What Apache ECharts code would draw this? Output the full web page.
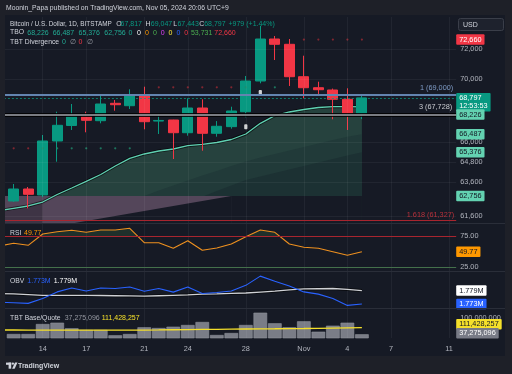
<!DOCTYPE html>
<html>
<head>
<meta charset="utf-8">
<script src="https://cdn.jsdelivr.net/npm/echarts@6.0.0/dist/echarts.min.js"></script>
<style>
html,body{margin:0;padding:0;background:#1e2028;}
#chart{width:512px;height:374px;}
</style>
</head>
<body>
<div id="chart"></div>
<script>
// ---------- categories / ticks ----------
const dates = ['Oct 11','Oct 12','Oct 13','Oct 14','Oct 15','Oct 16','Oct 17','Oct 18','Oct 19','Oct 20',
  'Oct 21','Oct 22','Oct 23','Oct 24','Oct 25','Oct 26','Oct 27','Oct 28','Oct 29','Oct 30','Oct 31',
  'Nov 1','Nov 2','Nov 3','Nov 4','Nov 5','Nov 6','Nov 7','Nov 8','Nov 9','Nov 10','Nov 11'];
const tickDates = ['Oct 14','Oct 17','Oct 21','Oct 24','Oct 28','Nov 1','Nov 4','Nov 7','Nov 11'];
const tickTexts = ['14','17','21','24','28','Nov','4','7','11'];
const priceTicks = [72000, 70000, 66000, 64800, 63600, 61600];
const priceTickTexts = ['72,000','70,000','66,000','64,800','63,600','61,600'];

// ---------- OHLC (Oct 11 is off-screen) ----------
const openP  = [null,62466,63171,62820,66076,67040,67597,67344,68450,68296,68984,67320,67388,66591,68149,66554,66970,67913,69894,72697,72338,70176,69457,69308,68707,67817];
const closeP = [null,63171,62859,66076,67054,67597,67369,68405,68360,68984,67281,67360,66591,68149,66554,66992,67959,69894,72697,72338,70176,69457,69327,68707,67817,68797];
const lowP   = [null,62420,62040,62700,64808,66760,66616,67180,67977,68085,66804,66511,64971,66405,65479,66342,66842,67559,69744,71282,69568,68771,69049,67433,66760,67443];
const highP  = [null,63469,63291,66448,67913,68405,67913,68984,68662,69353,69522,67768,67400,68771,68707,67320,68232,70222,73600,72902,72697,71569,69848,69400,69418,69047];

// ---------- TBO indicator ----------
const tboFast  = [61903,62040,62175,62407,62847,63231,63629,64036,64547,65014,65277,65460,65583,65786,65872,65983,66169,66511,67180,67661,67895,68054,68182,68232,68232,68226];
const tboSlow  = [62756,62756,62756,62756,62756,62756,62756,62756,62756,62756,62756,62756,62756,62756,62756,62756,62756,62756,62756,62756,62756,62756,62756,62756,62756,62756];
const tboBand1 = [null,null,null,null,null,null,null,null,null,null,62760,63084,63379,63677,63976,64246,64547,64819,65063,65277,65490,65706,65922,66138,66342,66487];
const tboBand2 = [null,null,null,null,null,null,null,null,null,null,null,null,null,null,62719,63054,63379,63706,63915,64125,64336,64547,64759,64971,65185,65376];
const tboLow   = [60450,60588,60736,60878,61021,61164,61307,61451,61595,61739,61884,62029,62175,62320,62466,62613,62760];
const dotRed   = [null,65625,65625,null,null,null,null,null,null,null,null,69484,69484,69484,69484,69484,69484,null,null,null,null,72660,72660,72660,72660,72660];
const dotGreen = [null,null,null,65625,65625,65625,65625,65625,65625,65625,null,null,null,null,null,null,null,69484,null,69484,null,null,null,null,null,null];
const divMarks = [null,null,null,null,null,null,null,null,null,null,null,null,null,null,null,null,null,66967,69146,null,null,null,null,null,null,null];

// ---------- drawings ----------
const fib1 = 69000, fib3 = 67728, fib1618 = 61327, lastPrice = 68797;

// ---------- RSI ----------
const rsi = [58.9,63.3,60.1,78.2,81.9,84.1,80.9,84.6,84.6,87.3,64.3,64.3,55.4,67.5,52.2,55.8,62.2,73.9,84.6,80.9,62.2,57.0,55.4,49.9,44.2,49.77];
const rsiUpper = 75, rsiLower = 25;

// ---------- OBV (millions) ----------
const obv   = [1.7738,1.7736,1.7733,1.7755,1.7784,1.7801,1.7788,1.7801,1.7799,1.7806,1.7787,1.7799,1.7783,1.7806,1.7777,1.7781,1.7788,1.7813,1.7854,1.7831,1.7810,1.7784,1.7774,1.7755,1.7724,1.7730];
const obvMa = [1.77764,1.7775,1.7772,1.7769,1.7769,1.7769,1.7769,1.7768,1.7767,1.7766,1.7765,1.7767,1.7769,1.7771,1.7774,1.7775,1.7777,1.7779,1.7783,1.7787,1.7793,1.7797,1.7798,1.7799,1.7795,1.7790];

// ---------- TBT Base/Quote volume (millions) ----------
const vol   = [null,38.4,38.4,77.6,82.7,60.8,54.1,54.1,33.3,38.4,64.7,61.9,67.0,73.7,85.5,34.5,42.3,73.7,121.9,80.4,64.7,88.2,47.4,71.0,82.7,37.275];
const volMa = [54.1,54.0,53.8,53.6,53.5,53.4,53.4,53.3,53.3,53.5,53.8,54.3,55.0,55.6,56.2,56.8,57.4,58.0,58.6,59.0,59.5,60.0,60.8,61.6,62.4,63.1];

// ---------- style constants ----------
const OUTER = '#1e2028', PANEL = '#161a25';
const FONT = '"Liberation Sans", Arial, sans-serif';
const GREEN = '#089981', RED = '#f23645', MINT = '#63d2b1';
const TXT = '#d1d4dc', AXT = '#b2b5be';
const GL = -8.09, GR = 55.8;
const GRIDLS = {color:'rgba(255,255,255,0.05)', width:1, type:'solid'};
const NOLINE = {color:'rgba(0,0,0,0)', width:1, type:'solid'};

function part(arr, from, to){ return arr.map((v,i)=> (i>=from && i<=to) ? v : null); }
function dash(arr){ return arr.map(v => v == null ? '-' : v); }
const candleData = openP.map((o,i)=> o == null ? ['-','-','-','-'] : [o, closeP[i], lowP[i], highP[i]]);

function area(data, color, z){
  return {type:'line', xAxisIndex:0, yAxisIndex:0, data:data, showSymbol:false, silent:true,
    lineStyle:{width:0}, areaStyle:{color:color, opacity:1, origin:'start'}, z:z, connectNulls:false};
}
function vGrid(){ return tickDates.map(d => ({xAxis:d, lineStyle:GRIDLS, label:{show:false}})); }
function tickLab(v, text){
  return {yAxis:v, lineStyle:GRIDLS, label:{show:true, position:'end', distance:4, formatter:text, color:AXT, fontSize:7.3, fontFamily:FONT, opacity:1}};
}
function plainLab(v, text){
  return {yAxis:v, lineStyle:NOLINE, label:{show:true, position:'end', distance:4, formatter:text, color:AXT, fontSize:7.3, fontFamily:FONT, opacity:1}};
}
function badge(v, text, bg, fg, dy){
  return {yAxis:v, lineStyle:NOLINE, label:{show:true, position:'end', distance:0, formatter:text,
    backgroundColor:bg, color:fg, fontSize:7.3, fontFamily:FONT, padding:[1.5,3,1,3], borderRadius:1,
    lineHeight:8, opacity:1, offset:[0, dy || 0]}};
}
function carrier(idx, marks, z, extra){
  const s = {type:'line', xAxisIndex:idx, yAxisIndex:idx, data:[], clip:false, silent:true, z:z,
    labelLayout:{hideOverlap:false},
    markLine:{silent:true, symbol:['none','none'], animation:false, precision:8, data:marks}};
  return Object.assign(s, extra || {});
}

const mainMarks = [].concat(
  vGrid(),
  priceTicks.map((v,i)=>tickLab(v, priceTickTexts[i])),
  [
    {yAxis:fib1, lineStyle:{color:'#6384b0', width:2, type:'solid'},
      label:{show:true, position:'insideEndTop', distance:3, formatter:'1 (69,000)', color:'#7f9cc6', fontSize:7.3, fontFamily:FONT}},
    {yAxis:lastPrice, lineStyle:{color:'rgba(8,153,129,0.75)', width:1, type:[2,2]}, label:{show:false}},
    {yAxis:fib3, lineStyle:{color:'#000000', width:4, opacity:0.85, type:'solid'}, label:{show:false}},
    {yAxis:fib3, lineStyle:{color:'#a3a6ad', width:1.6, type:'solid'},
      label:{show:true, position:'insideEndTop', distance:4, formatter:'3 (67,728)', color:'#c9cbd0', fontSize:7.3, fontFamily:FONT}},
    {yAxis:fib1618, lineStyle:{color:'#a8252f', width:1.2, type:'solid'},
      label:{show:true, position:'insideEndTop', distance:2, formatter:'1.618 (61,327)', color:'#b8313b', fontSize:7.3, fontFamily:FONT}},
    badge(72660, '72,660', RED, '#ffffff'),
    badge(lastPrice, '68,797\n12:53:53', GREEN, '#ffffff', 4.4),
    badge(tboFast[tboFast.length-1], '68,226', MINT, '#131722', 7.8),
    badge(tboBand1[tboBand1.length-1], '66,487', MINT, '#131722'),
    badge(tboBand2[tboBand2.length-1], '65,376', MINT, '#131722'),
    badge(tboSlow[tboSlow.length-1], '62,756', MINT, '#131722')
  ]
);

const rsiMarks = [].concat(vGrid(), [
  {yAxis:rsiUpper, lineStyle:{color:'#a8252f', width:1, type:'solid'}, label:{show:true, position:'end', distance:4, formatter:'75.00', color:AXT, fontSize:7.3, fontFamily:FONT}},
  {yAxis:rsiLower, lineStyle:{color:'#44704b', width:1, type:'solid'}, label:{show:true, position:'end', distance:4, formatter:'25.00', color:AXT, fontSize:7.3, fontFamily:FONT}},
  badge(rsi[rsi.length-1], '49.77', '#ff9800', '#131722')
]);
const obvMarks = [].concat(vGrid(), [
  badge(obvMa[obvMa.length-1], '1.779M', '#ffffff', '#131722'),
  badge(obv[obv.length-1], '1.773M', '#2962ff', '#ffffff')
]);
const volMarks = [].concat(vGrid(), [
  plainLab(100, '100,000,000'),
  badge(volMa[volMa.length-1], '111,428,257', '#f5e02a', '#131722', -3.4),
  badge(vol[vol.length-1], '37,275,096', '#787b86', '#ffffff', -1)
]);

// ---------- graphic texts ----------
function txt(x, y, text, color, size, weight){
  return {type:'text', x:x, y:y, z:100, silent:true,
    style:{text:text, fill:color, font:(weight||'normal')+' '+(size||7)+'px '+FONT,
      align:'left', verticalAlign:'middle', textAlign:'left', textVerticalAlign:'middle'}};
}
const G = [
  {type:'rect', z:-10, silent:true, shape:{x:5, y:15, width:500, height:341}, style:{fill:PANEL}},
  {type:'rect', z:100, silent:true, shape:{x:0, y:0, width:5, height:374}, style:{fill:OUTER}},
  {type:'line', z:90, silent:true, shape:{x1:5, y1:223.5, x2:505, y2:223.5}, style:{stroke:'#2a2e39', lineWidth:1}},
  {type:'line', z:90, silent:true, shape:{x1:5, y1:271.5, x2:505, y2:271.5}, style:{stroke:'#2a2e39', lineWidth:1}},
  {type:'line', z:90, silent:true, shape:{x1:5, y1:308.5, x2:505, y2:308.5}, style:{stroke:'#2a2e39', lineWidth:1}},
  txt(6, 8.3, 'Moonin_Papa published on TradingView.com, Nov 05, 2024 20:06 UTC+9', TXT, 6.8),
  // row 1
  txt(10, 24, 'Bitcoin / U.S. Dollar, 1D, BITSTAMP', TXT, 6.4),
  txt(116.2, 24, 'O', TXT, 7), txt(120.6, 24, '67,817', GREEN, 7),
  txt(145.5, 24, 'H', TXT, 7), txt(150.8, 24, '69,047', GREEN, 7),
  txt(173.2, 24, 'L', TXT, 7), txt(177.4, 24, '67,443', GREEN, 7),
  txt(199.2, 24, 'C', TXT, 7), txt(204.2, 24, '68,797', GREEN, 7),
  txt(228.5, 24, '+979 (+1.44%)', GREEN, 7),
  // row 2
  txt(10, 32.6, 'TBO', TXT, 6.8),
  txt(27.3, 32.6, '68,226', '#22ab94', 7), txt(52.7, 32.6, '66,487', '#22ab94', 7),
  txt(78.5, 32.6, '65,376', '#22ab94', 7), txt(104.3, 32.6, '62,756', '#22ab94', 7),
  txt(128.6, 32.6, '0', '#22ab94', 7), txt(136.9, 32.6, '0', '#ffffff', 7),
  txt(144.9, 32.6, '0', '#ff9800', 7), txt(152.9, 32.6, '0', '#4caf50', 7),
  txt(160.7, 32.6, '0', '#e040fb', 7), txt(168.4, 32.6, '0', '#ffeb3b', 7),
  txt(176.4, 32.6, '0', '#2962ff', 7), txt(184.3, 32.6, '0', '#f23645', 7),
  txt(190.9, 32.6, '53,731', '#4caf50', 7), txt(214.3, 32.6, '72,660', '#f23645', 7),
  // row 3
  txt(10, 42, 'TBT Divergence', TXT, 6.8),
  txt(62, 42, '0', '#22ab94', 7), txt(70.3, 42, '\u2205', '#9598a1', 6.8),
  txt(78.6, 42, '0', '#f23645', 7), txt(86.8, 42, '\u2205', '#9598a1', 6.8),
  // pane legends
  txt(10, 232.7, 'RSI', TXT, 6.8), txt(24, 232.7, '49.77', '#ff9800', 7),
  txt(10, 280.7, 'OBV', TXT, 6.8), txt(27.3, 280.7, '1.773M', '#2962ff', 7), txt(53.7, 280.7, '1.779M', '#ffffff', 7),
  txt(10, 318.3, 'TBT Base/Quote', TXT, 6.8), txt(64.7, 318.3, '37,275,096', '#9598a1', 7), txt(101.7, 318.3, '111,428,257', '#f5e02a', 7),
  // USD box
  {type:'rect', z:100, silent:true, shape:{x:458.5, y:18.5, width:45, height:12, r:2}, style:{fill:'#1e222d', stroke:'#3a3e49', lineWidth:1}},
  txt(463, 24.6, 'USD', TXT, 7),
  // TradingView logo
  {type:'rect', z:100, silent:true, shape:{x:6, y:362.6, width:5.2, height:2.2}, style:{fill:TXT}},
  {type:'rect', z:100, silent:true, shape:{x:8.6, y:362.6, width:2.6, height:6.1}, style:{fill:TXT}},
  {type:'circle', z:100, silent:true, shape:{cx:12.9, cy:363.7, r:1.15}, style:{fill:TXT}},
  {type:'polygon', z:100, silent:true, shape:{points:[[12.1,368.7],[15.0,362.6],[17.5,362.6],[14.6,368.7]]}, style:{fill:TXT}},
  txt(18, 365.8, 'TradingView', TXT, 7, 'bold')
];

const xBase = {type:'category', data:dates, boundaryGap:true, axisLine:{show:false}, axisTick:{show:false},
  axisLabel:{show:false}, splitLine:{show:false}, axisPointer:{show:false}};
const yHide = {axisLine:{show:false}, axisTick:{show:false}, axisLabel:{show:false}, splitLine:{show:false}};

const option = {
  animation:false,
  backgroundColor:OUTER,
  textStyle:{fontFamily:FONT},
  grid:[
    {left:GL, right:GR, top:17, height:207, outerBoundsMode:'none', containLabel:false},
    {left:GL, right:GR, top:224, height:47, outerBoundsMode:'none', containLabel:false},
    {left:GL, right:GR, top:271.5, height:37.5, outerBoundsMode:'none', containLabel:false},
    {left:GL, right:GR, top:309, height:29, outerBoundsMode:'none', containLabel:false}
  ],
  xAxis:[
    Object.assign({}, xBase, {gridIndex:0}),
    Object.assign({}, xBase, {gridIndex:1}),
    Object.assign({}, xBase, {gridIndex:2}),
    Object.assign({}, xBase, {gridIndex:3, axisLabel:{show:true, interval:(i,v)=>tickDates.indexOf(v) >= 0,
      formatter:(v)=>tickTexts[tickDates.indexOf(v)], color:AXT, fontSize:7.3, margin:7, fontFamily:FONT}})
  ],
  yAxis:[
    Object.assign({gridIndex:0, type:'log', logBase:10, min:61135, max:74211}, yHide),
    Object.assign({gridIndex:1, type:'value', min:19.09, max:94.17}, yHide),
    Object.assign({gridIndex:2, type:'value', min:1.77081, max:1.78745}, yHide),
    Object.assign({gridIndex:3, type:'value', min:22.7, max:136.4}, yHide)
  ],
  graphic:G,
  series:[
    // TBO cloud (painter order)
    area(tboFast, '#26423e', 1.0),
    area(tboBand1, '#213a39', 1.1),
    area(tboBand2, '#1c3133', 1.2),
    area(part(tboSlow, 0, 16), '#54465a', 1.3),
    area(part(tboSlow, 16, 25), PANEL, 1.31),
    area(part(tboFast, 0, 3), '#3e3445', 1.4),
    area(tboLow, PANEL, 1.5),
    {type:'line', xAxisIndex:0, yAxisIndex:0, data:tboFast, showSymbol:false, silent:true, z:1.7,
      lineStyle:{color:'rgba(0,0,0,0.6)', width:3}},
    {type:'line', xAxisIndex:0, yAxisIndex:0, data:tboFast, showSymbol:false, silent:true, z:1.8,
      lineStyle:{color:'#5fd0b2', width:1.3}},
    {type:'candlestick', xAxisIndex:0, yAxisIndex:0, data:candleData, barWidth:10.5, silent:true, z:2,
      itemStyle:{color:GREEN, color0:RED, borderColor:GREEN, borderColor0:RED, borderWidth:1}},
    {type:'scatter', xAxisIndex:0, yAxisIndex:0, data:dash(dotRed), symbolSize:2.2, silent:true, z:3,
      itemStyle:{color:'#9b2933'}},
    {type:'scatter', xAxisIndex:0, yAxisIndex:0, data:dash(dotGreen), symbolSize:2.2, silent:true, z:3,
      itemStyle:{color:'#1f8c6c'}},
    {type:'scatter', xAxisIndex:0, yAxisIndex:0, data:dash(divMarks), symbol:'roundRect', symbolSize:[3.2,5], silent:true, z:3,
      itemStyle:{color:'#ffffff'}},
    carrier(0, mainMarks, 5),
    // RSI
    {type:'line', xAxisIndex:1, yAxisIndex:1, data:rsi, showSymbol:false, silent:true, z:0.5,
      lineStyle:{width:0}, areaStyle:{color:'#1f302b', opacity:1, origin:'start'}},
    carrier(1, rsiMarks, 1, {markArea:{silent:true, itemStyle:{color:PANEL}, data:[[{yAxis:19.09},{yAxis:rsiUpper}]]}}),
    {type:'line', xAxisIndex:1, yAxisIndex:1, data:rsi, showSymbol:false, silent:true, z:2,
      lineStyle:{color:'#ee901f', width:1.1}},
    // OBV
    {type:'line', xAxisIndex:2, yAxisIndex:2, data:obvMa, showSymbol:false, silent:true, z:2,
      lineStyle:{color:'rgba(0,0,0,0.6)', width:3}},
    {type:'line', xAxisIndex:2, yAxisIndex:2, data:obvMa, showSymbol:false, silent:true, z:2.1,
      lineStyle:{color:'#cfd1d6', width:1.3}},
    {type:'line', xAxisIndex:2, yAxisIndex:2, data:obv, showSymbol:false, silent:true, z:2.2,
      lineStyle:{color:'#2962ff', width:1.1}},
    carrier(2, obvMarks, 1),
    // Volume
    {type:'bar', xAxisIndex:3, yAxisIndex:3, data:dash(vol), barCategoryGap:'6%', silent:true, z:2,
      itemStyle:{color:'#7a7d87', borderColor:'#90949c', borderWidth:0.6}},
    {type:'line', xAxisIndex:3, yAxisIndex:3, data:volMa, showSymbol:false, silent:true, z:3,
      lineStyle:{color:'#f5e02a', width:1.3}},
    carrier(3, volMarks, 4)
  ]
};

const chart = echarts.init(document.getElementById('chart'), null, {renderer:'canvas', width:512, height:374});
chart.setOption(option);
</script>
</body>
</html>
